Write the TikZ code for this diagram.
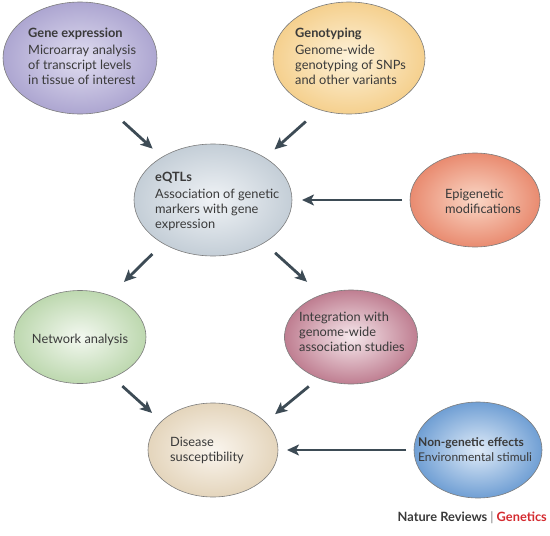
\documentclass[tikz,border=0pt]{standalone}
\usepackage{fontspec}
\setmainfont{Lato}
\usetikzlibrary{arrows.meta,shapes.geometric,calc}
\definecolor{bordergray}{HTML}{7C7C7C}
\definecolor{textgray}{HTML}{3A3A3A}
\definecolor{arrowc}{HTML}{3D4B55}
\definecolor{geIn}{HTML}{E0DDF0}\definecolor{geOut}{HTML}{ADA6D1}
\definecolor{gtIn}{HTML}{FDF2DA}\definecolor{gtOut}{HTML}{F5D08E}
\definecolor{eqIn}{HTML}{F0F3F6}\definecolor{eqOut}{HTML}{C4CED7}
\definecolor{epIn}{HTML}{FAD7C6}\definecolor{epOut}{HTML}{E98B70}
\definecolor{naIn}{HTML}{F3F8F0}\definecolor{naOut}{HTML}{BDD8AF}
\definecolor{inIn}{HTML}{F6E8EC}\definecolor{inOut}{HTML}{BF7E91}
\definecolor{dsIn}{HTML}{FAF5EE}\definecolor{dsOut}{HTML}{E4D5BC}
\definecolor{ngIn}{HTML}{DFEBF8}\definecolor{ngOut}{HTML}{709FD4}
\definecolor{nrred}{HTML}{D42A2F}
\tikzset{
  bubble/.style={ellipse, draw=bordergray, line width=0.6pt, inner sep=0pt, outer sep=0pt},
  txt/.style={align=left, anchor=west, font=\fontsize{12.8}{15}\selectfont, text=textgray, inner sep=0pt},
  arr/.style={-{Stealth[length=12pt,width=11pt,inset=3pt]}, line width=2.8pt, draw=arrowc},
}
\begin{document}
\begin{tikzpicture}[x=1pt,y=-1pt]
\useasboundingbox (0,0) rectangle (550,536);
% ellipses
\node[bubble, minimum width=154pt, minimum height=112pt, inner color=geIn, outer color=geOut] (ge) at (80,58) {};
\node[bubble, minimum width=152pt, minimum height=112pt, inner color=gtIn, outer color=gtOut] (gt) at (349,58) {};
\node[bubble, minimum width=158pt, minimum height=112pt, inner color=eqIn, outer color=eqOut] (eq) at (213,200) {};
\node[bubble, minimum width=130pt, minimum height=94pt, inner color=epIn, outer color=epOut] (ep) at (475,200) {};
\node[bubble, minimum width=132pt, minimum height=93pt, inner color=naIn, outer color=naOut] (na) at (80,337) {};
\node[bubble, minimum width=133pt, minimum height=94pt, inner color=inIn, outer color=inOut] (integ) at (351,337) {};
\node[bubble, minimum width=130pt, minimum height=94pt, inner color=dsIn, outer color=dsOut] (ds) at (213,450) {};
\node[bubble, minimum width=128pt, minimum height=96pt, inner color=ngIn, outer color=ngOut] (ng) at (478,450) {};
% texts
\node[txt] (get) at (28,56) {\textbf{Gene expression}\\[2pt]Microarray analysis\\of transcript levels\\in tissue of interest};
\node[txt] (gtt) at (295,56) {\textbf{Genotyping}\\[2pt]Genome-wide\\genotyping of SNPs\\and other variants};
\node[txt] (eqt) at (155,201) {\textbf{eQTLs}\\[2pt]Association of genetic\\markers with gene\\expression};
\node[txt] (ept) at (445,201) {Epigenetic\\modifications};
\node[txt, anchor=center] (nat) at (80,340) {Network analysis};
\node[txt] (intt) at (299,332) {Integration with\\genome-wide\\association studies};
\node[txt] (dst) at (170,450) {Disease\\susceptibility};
\node[txt, font=\fontsize{12}{15}\selectfont] (ngt) at (418,450) {\textbf{Non-genetic effects}\\Environmental stimuli};
% arrows
\draw[arr, shorten <=18pt, shorten >=12.7pt] (ge.-60) -- (eq.140.7);
\draw[arr, shorten <=18pt, shorten >=12.7pt] (gt.-120) -- (eq.39.3);
\draw[arr, shorten <=8pt, shorten >=10pt] (ep.west) -- (eq.east);
\draw[arr, shorten <=15pt, shorten >=19.5pt] (eq.-139.3) -- (na.54.7);
\draw[arr, shorten <=15pt, shorten >=19.5pt] (eq.-40.7) -- (integ.125.3);
\draw[arr, shorten <=13pt, shorten >=12.6pt] (na.-51.1) -- (ds.151.3);
\draw[arr, shorten <=13pt, shorten >=12.6pt] (integ.-128.9) -- (ds.28.7);
\draw[arr, shorten <=8pt, shorten >=9pt] (ng.west) -- (ds.east);
% credit
\node[anchor=base east, inner sep=0pt, font=\fontsize{12.8}{15}\selectfont\bfseries, text=textgray] (nr) at (547,521) {Nature Reviews {\color{gray}\mdseries|} {\color{nrred}Genetics}};
\end{tikzpicture}
\end{document}
